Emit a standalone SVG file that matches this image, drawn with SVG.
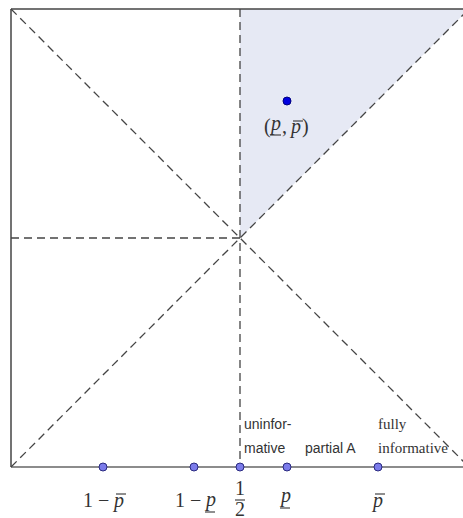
<svg xmlns="http://www.w3.org/2000/svg" width="463" height="518" viewBox="0 0 463 518">
<style>
.frame{stroke:#444;stroke-width:1.5;fill:none}
.axis{stroke:#666;stroke-width:1.5;fill:none}
.dash{stroke:#444;stroke-width:1.3;fill:none;stroke-dasharray:8,5}
.pt{fill:#7b7bea;stroke:#2a2a80;stroke-width:1}
.math{font-family:"Liberation Serif",serif;font-size:20px;fill:#333}
.it{font-style:italic}
.bar{stroke:#333;stroke-width:1.1}
.lbl{font-family:"Liberation Sans",sans-serif;font-size:14px;fill:#333}
.lbl2{font-family:"Liberation Serif",serif;font-size:15px;fill:#333}
</style>
<rect width="463" height="518" fill="#fff"/>
<g id="shade"><polygon points="240,9 469,9 240,238" fill="#e6e9f4"/></g>
<g id="connectors">
<line class="frame" x1="11" y1="9" x2="463" y2="9"/>
<line class="frame" x1="11" y1="9" x2="11" y2="467"/>
<line class="axis" x1="11" y1="467" x2="463" y2="467"/>
<line class="dash" x1="240" y1="9" x2="240" y2="467"/>
<line class="dash" x1="11" y1="238" x2="240" y2="238"/>
<line class="dash" x1="11" y1="9" x2="469" y2="467"/>
<line class="dash" x1="11" y1="467" x2="469" y2="9"/>
</g>
<g id="pointPP">
<circle cx="287" cy="101" r="4" fill="#0000e0" stroke="#000080" stroke-width="1"/>
<text class="math" x="264" y="133" font-size="19">(</text>
<text class="math it" x="271" y="130" font-size="19">p</text>
<line class="bar" x1="270" y1="135" x2="281" y2="135"/>
<text class="math" x="282" y="133" font-size="19">,</text>
<text class="math it" x="291" y="133" font-size="19">p</text>
<line class="bar" x1="293" y1="121" x2="303" y2="121"/>
<text class="math" x="302" y="133" font-size="19">)</text>
</g>
<g id="p1"><circle class="pt" cx="103" cy="467" r="4"/>
<text class="math" x="83" y="507">1 − </text>
<text class="math it" x="114" y="507">p</text>
<line class="bar" x1="116" y1="494" x2="126" y2="494"/></g>
<g id="p2"><circle class="pt" cx="194" cy="467" r="4"/>
<text class="math" x="175" y="507">1 − </text>
<text class="math it" x="206" y="506">p</text>
<line class="bar" x1="205" y1="512" x2="215" y2="512"/></g>
<g id="p3"><circle class="pt" cx="240" cy="467" r="4"/>
<text class="math" x="240" y="495" font-size="18" text-anchor="middle">1</text>
<line class="bar" x1="235" y1="500" x2="245" y2="500"/>
<text class="math" x="240" y="516" font-size="18" text-anchor="middle">2</text></g>
<g id="p4"><circle class="pt" cx="287" cy="467" r="4"/>
<text class="math it" x="281" y="502">p</text>
<line class="bar" x1="280" y1="508" x2="290" y2="508"/></g>
<g id="p5"><circle class="pt" cx="378" cy="467" r="4"/>
<text class="math it" x="373" y="507">p</text>
<line class="bar" x1="375" y1="494" x2="385" y2="494"/></g>
<g id="labels">
<text class="lbl" x="244" y="429">uninfor-</text>
<text class="lbl" x="244" y="453">mative</text>
<text class="lbl" x="305" y="453">partial A</text>
<text class="lbl2" x="378" y="429">fully</text>
<text class="lbl2" x="378" y="453">informative</text>
</g>
</svg>
